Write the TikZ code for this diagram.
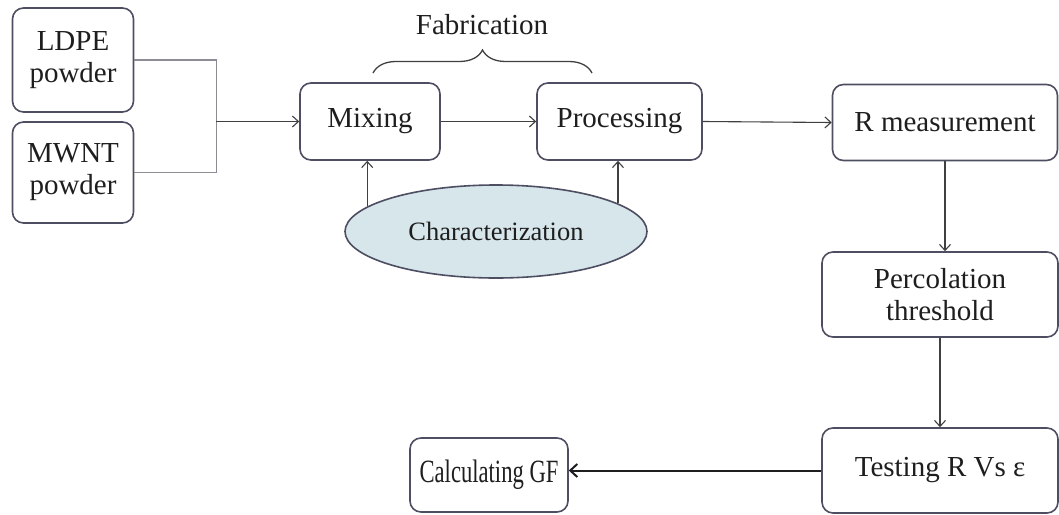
\documentclass[tikz,border=0pt]{standalone}
\usepackage{fontspec}
\setmainfont{Liberation Serif}
\usetikzlibrary{shapes.geometric,arrows.meta,decorations.pathreplacing}
\definecolor{edgec}{RGB}{78,78,98}
\definecolor{ink}{RGB}{30,30,30}
\definecolor{fillc}{RGB}{214,230,234}
\definecolor{connc}{RGB}{140,140,150}
\begin{document}
\begin{tikzpicture}[x=1pt,y=-1pt,
  box/.style={draw=edgec, line width=1.6pt, rounded corners=11pt, align=center,
    text=ink, inner sep=0pt, font=\fontsize{29}{32}\selectfont},
  arr/.style={draw=ink!85, line width=1.1pt, -{Straight Barb[length=6pt,width=11pt]}},
  thickarr/.style={draw=ink, line width=2pt, -{Straight Barb[length=7pt,width=13pt]}},
  feed/.style={draw=connc, line width=1.2pt},
  bracestyle/.style={draw=ink!85, line width=1.3pt, decorate, decoration={brace, amplitude=23pt}}
]
\useasboundingbox (0,0) rectangle (1059,514);

\node[box, minimum width=121pt, minimum height=104pt] (ldpe) at (73,60) {LDPE\\powder};
\node[box, minimum width=121pt, minimum height=101pt] (mwnt) at (73,172.5) {MWNT\\powder};
\node[box, minimum width=140pt, minimum height=77pt] (mix) at (370,121.5) {Mixing};
\node[box, minimum width=165pt, minimum height=77pt] (proc) at (619.5,121.5) {Processing};
\node[box, minimum width=225pt, minimum height=76pt] (rmeas) at (945,122.5) {R measurement};
\node[box, minimum width=236pt, minimum height=85pt] (perc) at (940,294.5) {Percolation\\threshold};
\node[box, minimum width=236pt, minimum height=85pt] (test) at (940,470.5) {Testing R Vs ε};
\node[box, minimum width=158pt, minimum height=74pt] (calc) at (489,475) {\scalebox{0.78}[1.12]{Calculating GF}};
\node[ellipse, draw=edgec, line width=1.6pt, fill=fillc, text=ink, inner sep=0pt,
  minimum width=302pt, minimum height=93pt, font=\fontsize{26.5}{30}\selectfont] (char) at (496,231.5) {Characterization};
\node[text=ink, font=\fontsize{29}{32}\selectfont] (fab) at (482,25) {Fabrication};

\path (mix.west) ++(-83,0) coordinate (j);
\draw[feed] (ldpe.east) -| (j);
\draw[feed] (mwnt.east) -| (j);
\draw[arr] (j) -- (mix.west);
\draw[arr] (mix.east) -- (proc.west);
\draw[arr] (proc.east) -- (rmeas.west);
\draw[arr] (rmeas.south) -- (rmeas.south |- perc.north);
\draw[arr] (perc.south) -- (perc.south |- test.north);
\draw[thickarr] (test.west) -- (test.west -| calc.east);
\draw[arr] (char.169.5) -- (char.169.5 |- mix.south);
\draw[arr] (char.13) -- (char.13 |- proc.south);

\coordinate (bl) at (373,73);
\coordinate (br) at (592,73);
\draw[bracestyle] (bl) -- (br);
\end{tikzpicture}
\end{document}
